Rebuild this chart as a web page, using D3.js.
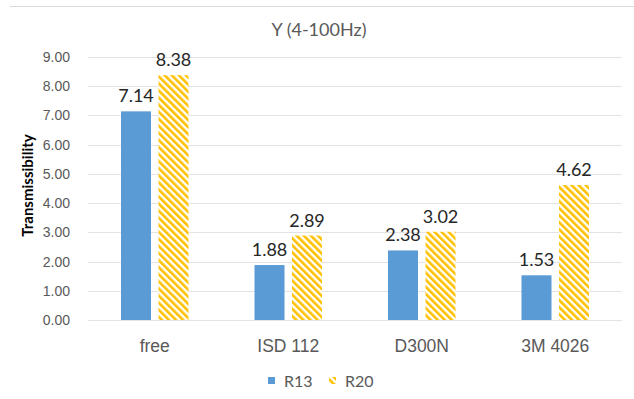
<!DOCTYPE html>
<html lang="en">
<head>
<meta charset="UTF-8">
<title>Y (4-100Hz)</title>
<script src="https://d3js.org/d3.v7.min.js"></script>
<style>
  body { margin: 0; background: #fff; }
  svg { display: block; font-family: Lato, "Open Sans", sans-serif; }
</style>
</head>
<body>
<svg id="chart" width="634" height="399"></svg>
<script>
// chart data
const categories = ['free', 'ISD 112', 'D300N', '3M 4026'];
const seriesNames = ['R13', 'R20'];
const r13 = [7.14, 1.88, 2.38, 1.53];
const r20 = [8.38, 2.89, 3.02, 4.62];
const yTicks = [0, 1, 2, 3, 4, 5, 6, 7, 8, 9];

const svg = d3.select('#chart');
const margin = { top: 57, right: 12, bottom: 79, left: 88 };
const width = +svg.attr('width') - margin.left - margin.right;
const height = +svg.attr('height') - margin.top - margin.bottom;

// hatch pattern for R20
const defs = svg.append('defs');
const pat = defs.append('pattern')
    .attr('id', 'hatch')
    .attr('patternUnits', 'userSpaceOnUse')
    .attr('width', 5).attr('height', 5)
    .attr('patternTransform', 'rotate(-45)');
pat.append('rect').attr('width', 5).attr('height', 5).attr('fill', '#fff');
pat.append('rect').attr('width', 2.6).attr('height', 5).attr('fill', '#FFC000');

// top frame line
svg.append('line')
    .attr('x1', 10).attr('x2', 634).attr('y1', 6.5).attr('y2', 6.5)
    .attr('stroke', '#d9d9d9');

const g = svg.append('g').attr('transform', `translate(${margin.left},${margin.top})`);

const x = d3.scaleBand().domain(categories).range([0, width]);
const y = d3.scaleLinear().domain([0, 9]).range([height, 0]);

// gridlines
g.append('g')
    .selectAll('line')
    .data(yTicks)
    .join('line')
    .attr('x1', 0).attr('x2', width)
    .attr('y1', d => Math.round(y(d)) + 0.5).attr('y2', d => Math.round(y(d)) + 0.5)
    .attr('stroke', '#e3e3e3');

// y axis labels
const yAxis = g.append('g')
    .call(d3.axisLeft(y).tickValues(yTicks).tickFormat(d3.format('.2f')).tickSize(0).tickPadding(18));
yAxis.select('.domain').remove();
yAxis.selectAll('text').attr('fill', '#595959').style('font-size', '14px');

// x axis labels
const xAxis = g.append('g')
    .attr('transform', `translate(0,${height})`)
    .call(d3.axisBottom(x).tickSize(0).tickPadding(20));
xAxis.select('.domain').remove();
xAxis.selectAll('text').attr('fill', '#595959').style('font-size', '17.5px');

// bars
const barW = 30, gap = 7.5;
const series = [
    { name: seriesNames[0], values: r13, fill: '#5B9BD5', off: -gap / 2 - barW },
    { name: seriesNames[1], values: r20, fill: 'url(#hatch)', off: gap / 2 }
];

series.forEach(s => {
    const cx = c => x(c) + x.bandwidth() / 2 + s.off;
    g.append('g').selectAll('rect')
        .data(categories)
        .join('rect')
        .attr('x', cx)
        .attr('y', (c, i) => y(s.values[i]))
        .attr('width', barW)
        .attr('height', (c, i) => height - y(s.values[i]))
        .attr('fill', s.fill);
    g.append('g').selectAll('text')
        .data(categories)
        .join('text')
        .attr('x', c => cx(c) + barW / 2)
        .attr('y', (c, i) => y(s.values[i]) - 9)
        .attr('text-anchor', 'middle')
        .attr('fill', '#262626')
        .style('font-size', '18px')
        .text((c, i) => s.values[i].toFixed(2));
});

// title
svg.append('text')
    .attr('x', 319).attr('y', 36)
    .attr('text-anchor', 'middle')
    .attr('fill', '#595959')
    .style('font-size', '18px')
    .text('Y (4-100Hz)');

// y axis title
svg.append('text')
    .attr('transform', `translate(33,${margin.top + height / 2 - 3}) rotate(-90)`)
    .attr('text-anchor', 'middle')
    .attr('fill', '#000')
    .style('font-size', '15px')
    .style('font-weight', 'bold')
    .text('Transmissibility');

// legend
const legend = svg.append('g').attr('transform', 'translate(268,381)');
series.forEach((s, i) => {
    const lg = legend.append('g').attr('transform', `translate(${i * 61},0)`);
    lg.append('rect').attr('x', 0).attr('y', -4).attr('width', 7).attr('height', 7).attr('fill', s.fill);
    lg.append('text').attr('x', 16).attr('y', 0).attr('dy', '0.35em')
        .attr('fill', '#595959').style('font-size', '16px').text(s.name);
});
</script>
</body>
</html>
